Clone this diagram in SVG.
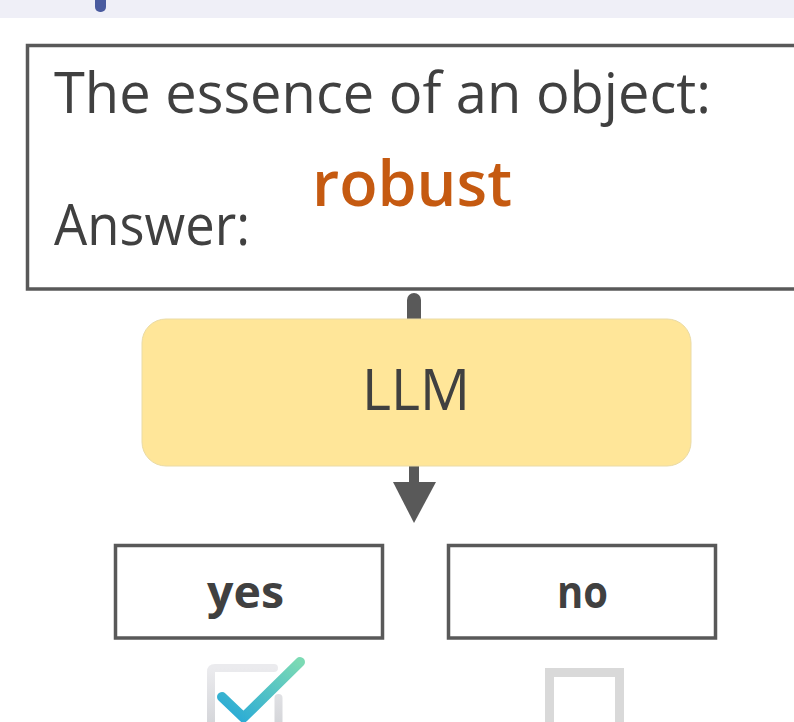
<svg xmlns="http://www.w3.org/2000/svg" width="794" height="722" viewBox="0 0 794 722">
<style>
.t{font-family:"Open Sans","Noto Sans",sans-serif;font-weight:500;fill:#404040}
.box{fill:#fff;stroke:#595959;stroke-width:3.5}
.lbl{font-family:"Open Sans","Noto Sans",sans-serif;font-weight:700;fill:#404040;font-size:44px;text-anchor:middle}
</style>
<defs>
<linearGradient id="chk" x1="0" y1="1" x2="1" y2="0">
<stop offset="0" stop-color="#25A8D8"/>
<stop offset="1" stop-color="#7CDAB4"/>
</linearGradient>
<linearGradient id="sq" x1="0" y1="0" x2="0" y2="1">
<stop offset="0" stop-color="#EBEBEE"/>
<stop offset="1" stop-color="#D2D3D7"/>
</linearGradient>
</defs>
<rect x="0" y="0" width="794" height="18" fill="#EFEFF7"/>
<rect x="95" y="-6" width="11" height="18" rx="5" fill="#4A5B9F"/>
<g id="connectors">
<path d="M414 300 L414 320" stroke="#595959" stroke-width="14" stroke-linecap="round" fill="none"/>
<rect x="409" y="466" width="10" height="18" fill="#595959"/>
<polygon points="393,482 436,482 414,523" fill="#595959"/>
</g>
<g id="question">
<rect class="box" x="27.5" y="45.5" width="800" height="243.5"/>
<text class="t" x="54" y="113" font-size="56" textLength="657" lengthAdjust="spacingAndGlyphs">The essence of an object:</text>
<text class="t" x="54" y="245" font-size="56" textLength="196" lengthAdjust="spacingAndGlyphs">Answer:</text>
<text x="312" y="206" font-family="Open Sans, Noto Sans, sans-serif" font-size="64" font-weight="600" fill="#C55A11" textLength="200" lengthAdjust="spacingAndGlyphs">robust</text>
</g>
<g id="llm">
<rect x="142" y="319" width="549" height="147" rx="24" fill="#FFE699" stroke="#EADBA6" stroke-width="1"/>
<text class="t" x="416" y="410" font-size="56" text-anchor="middle" textLength="108" lengthAdjust="spacingAndGlyphs">LLM</text>
</g>
<g id="yes">
<rect class="box" x="115.5" y="545.5" width="267" height="92.5"/>
<text class="lbl" x="245.5" y="608" textLength="77" lengthAdjust="spacingAndGlyphs">yes</text>
</g>
<g id="no">
<rect class="box" x="448.5" y="545.5" width="267" height="92.5"/>
<text class="lbl" x="582.5" y="608" textLength="51" lengthAdjust="spacingAndGlyphs">no</text>
</g>
<g id="check-yes">
<path d="M278.5 698 L278.5 730 M211 730 L211 672 Q211 668 215 668 L274 668" stroke="url(#sq)" stroke-width="8" stroke-linecap="round" fill="none"/>
<path d="M222 697 L243.5 717.5 L300 662" stroke="url(#chk)" stroke-width="10" stroke-linecap="round" stroke-linejoin="round" fill="none"/>
</g>
<g id="check-no">
<path d="M549.5 730 L549.5 672.5 L619.5 672.5 L619.5 730" stroke="#D9D9D9" stroke-width="9" fill="none"/>
</g>
</svg>
